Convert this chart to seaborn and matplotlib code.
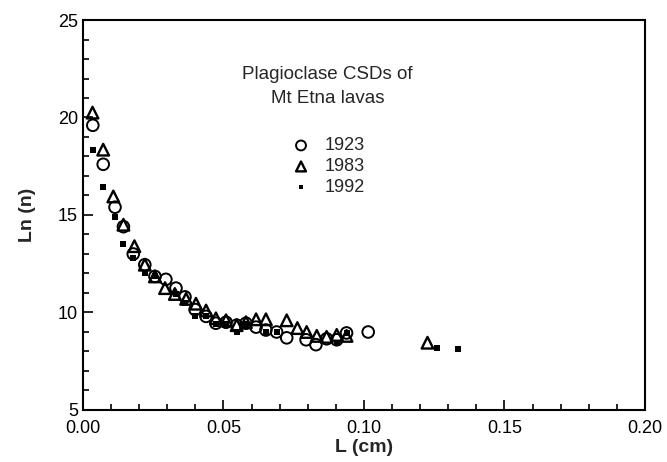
import numpy as np
import pandas as pd
import seaborn as sns
import matplotlib.pyplot as plt
import matplotlib.transforms as mtransforms
from matplotlib.ticker import MultipleLocator

# --- Data ---
L_1923 = [0.0035, 0.0072, 0.0114, 0.0144, 0.0179, 0.0220, 0.0256, 0.0295, 0.0331,
          0.0363, 0.0399, 0.0438, 0.0473, 0.0509, 0.0547, 0.0580, 0.0616, 0.0651,
          0.0689, 0.0725, 0.0794, 0.0829, 0.0867, 0.0903, 0.0938, 0.1015]
ln_1923 = [19.6, 17.6, 15.4, 14.4, 13.0, 12.45, 11.85, 11.7, 11.25,
           10.8, 10.15, 9.8, 9.45, 9.5, 9.35, 9.45, 9.25, 9.1,
           9.0, 8.7, 8.6, 8.35, 8.65, 8.6, 8.95, 9.0]

L_1983 = [0.0034, 0.0072, 0.0108, 0.0144, 0.0183, 0.0220, 0.0256, 0.0292, 0.0327,
          0.0367, 0.0402, 0.0438, 0.0473, 0.0509, 0.0547, 0.0580, 0.0616, 0.0651,
          0.0725, 0.0763, 0.0796, 0.0832, 0.0867, 0.0903, 0.0938, 0.1226]
ln_1983 = [20.25, 18.35, 15.95, 14.5, 13.4, 12.45, 11.85, 11.25, 10.95,
           10.7, 10.45, 10.1, 9.7, 9.6, 9.35, 9.5, 9.65, 9.65,
           9.6, 9.2, 9.0, 8.8, 8.75, 8.85, 8.8, 8.45]

L_1992 = [0.0037, 0.0072, 0.0114, 0.0144, 0.0179, 0.0220, 0.0256, 0.0331, 0.0363,
          0.0399, 0.0438, 0.0473, 0.0509, 0.0547, 0.0580, 0.0653, 0.0689, 0.0903,
          0.0938, 0.1260, 0.1336]
ln_1992 = [18.35, 16.45, 14.9, 13.5, 12.8, 12.05, 11.85, 10.95, 10.5,
           9.8, 9.8, 9.4, 9.4, 9.0, 9.4, 9.0, 9.0, 8.45,
           8.95, 8.2, 8.15]

df = pd.concat([
    pd.DataFrame({"L": L_1923, "lnn": ln_1923, "year": "1923"}),
    pd.DataFrame({"L": L_1983, "lnn": ln_1983, "year": "1983"}),
    pd.DataFrame({"L": L_1992, "lnn": ln_1992, "year": "1992"}),
])

sns.set_style("ticks")
plt.rcParams["font.family"] = ["Liberation Sans", "DejaVu Sans"]

fig = plt.figure(figsize=(6.67, 4.62), dpi=100)
ax = fig.add_axes([0.1244, 0.1126, 0.8426, 0.8441])

styles = {
    "1923": dict(marker="o", s=70, facecolor="none", edgecolor="black", linewidth=1.4),
    "1983": dict(marker="^", s=70, facecolor="none", edgecolor="black", linewidth=1.7),
    "1992": dict(marker="s", s=14, color="black", linewidth=0),
}
for yr in ["1923", "1983", "1992"]:
    sns.scatterplot(data=df[df["year"] == yr], x="L", y="lnn", ax=ax,
                    label=yr, **styles[yr])

ax.set_xlim(0, 0.20)
ax.set_ylim(5, 25)
ax.xaxis.set_major_locator(MultipleLocator(0.05))
ax.xaxis.set_minor_locator(MultipleLocator(0.01))
ax.yaxis.set_major_locator(MultipleLocator(5))
ax.yaxis.set_minor_locator(MultipleLocator(1))
ax.set_xticklabels([f"{v:.2f}" for v in ax.get_xticks()])
ax.tick_params(which="both", direction="in", top=False, right=False, labelsize=13,
               width=1.2, colors="black")
ax.tick_params(which="major", length=7)
ax.tick_params(which="minor", length=4)
ax.tick_params(axis="x", pad=7)
for sp in ax.spines.values():
    sp.set_linewidth(1.5)
    sp.set_color("black")

# nudge the bottom "5" label up a little so it clears "0.00"
fig.canvas.draw()
lab5 = ax.get_yticklabels()[0]
lab5.set_transform(lab5.get_transform() +
                   mtransforms.ScaledTranslation(0, 4 / 72, fig.dpi_scale_trans))

ax.set_xlabel("L (cm)", fontsize=14, fontweight="bold", labelpad=2)
ax.set_ylabel("Ln (n)", fontsize=14, fontweight="bold", labelpad=16)

leg = ax.legend(title="Plagioclase CSDs of\nMt Etna lavas", frameon=False,
                loc="upper center", bbox_to_anchor=(0.435, 0.925),
                fontsize=13, title_fontsize=13.5, handletextpad=0.7,
                handlelength=1.2, labelspacing=0.22, markerscale=0.85)
leg.get_title().set_multialignment("center")
leg.get_title().set_linespacing(1.55)
leg._legend_box.sep = 22

fig.savefig("out.png", dpi=100)
